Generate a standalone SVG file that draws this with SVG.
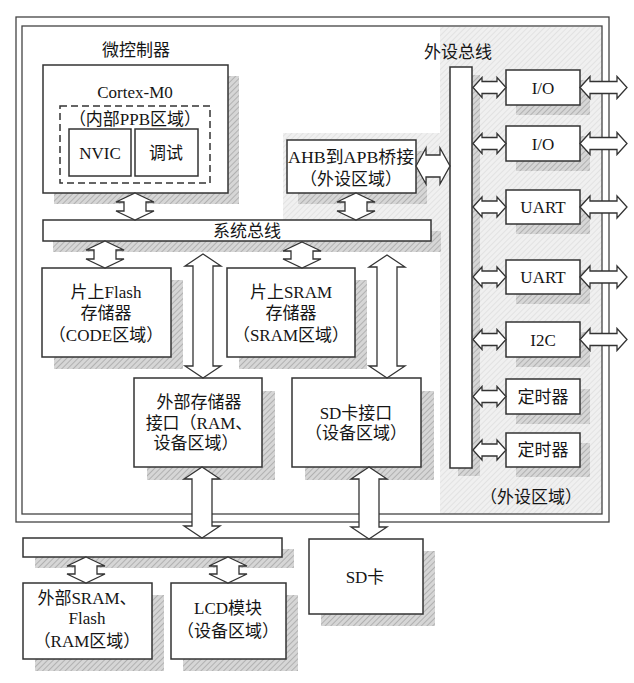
<svg xmlns="http://www.w3.org/2000/svg" xmlns:xlink="http://www.w3.org/1999/xlink" width="634" height="683" viewBox="0 0 634 683">
<style>
.box{fill:#fff;stroke:#333;stroke-width:1.5}
.sh{fill:url(#hatch);stroke:none}
.arr{fill:#fff;stroke:#333;stroke-width:1.3;stroke-linejoin:miter}
.frame{fill:none;stroke:#444;stroke-width:1.3}
text{font-family:"Liberation Serif","Noto Sans CJK SC",serif;font-size:17px;fill:#151515;text-anchor:middle}
</style>
<defs>
<pattern id="hatch" patternUnits="userSpaceOnUse" width="4" height="4" patternTransform="rotate(45)">
<rect width="4" height="4" fill="#d6d6d6"/>
<line x1="0" y1="0" x2="0" y2="4" stroke="#a8a8a8" stroke-width="1.6"/>
</pattern>
<pattern id="light" patternUnits="userSpaceOnUse" width="4" height="4" patternTransform="rotate(45)">
<rect width="4" height="4" fill="#f0f0f0"/>
<line x1="0" y1="0" x2="0" y2="4" stroke="#dcdcdc" stroke-width="1.4"/>
</pattern>
<polygon id="pa" points="0,0 9,-10 9,-6 24,-6 24,-10 33,0 24,10 24,6 9,6 9,10"/>
<polygon id="pb" points="0,0 10,-11 10,-6 37,-6 37,-11 47,0 37,11 37,6 10,6 10,11"/>
</defs>

<g id="frame">
<polygon points="440,27 602,27 602,514 440,514 440,252 283,252 283,133 440,133" fill="url(#light)"/>
<rect class="frame" x="16" y="17" width="593" height="505"/>
<rect class="frame" x="22" y="26" width="580" height="488"/>
<text x="136" y="56">微控制器</text>
<text x="458" y="58">外设总线</text>
<text x="531" y="503">（外设区域）</text>
</g>

<g id="cortex">
<rect class="sh" x="54" y="76" width="185" height="128"/>
<rect class="box" x="43" y="65" width="185" height="128"/>
<text x="135" y="98">Cortex-M0</text>
<rect x="60" y="106" width="150" height="77" fill="#fff" stroke="#333" stroke-width="1.5" stroke-dasharray="7,4"/>
<text x="135" y="125">（内部PPB区域）</text>
</g>
<g id="nvic">
<rect class="box" x="69" y="129" width="62" height="47"/>
<text x="100" y="159">NVIC</text>
</g>
<g id="debug">
<rect class="box" x="135" y="129" width="63" height="47"/>
<text x="166" y="159">调试</text>
</g>

<g id="sysbus">
<rect class="sh" x="53" y="231" width="388" height="21"/>
<rect class="box" x="43" y="220" width="388" height="21"/>
<text x="247" y="237">系统总线</text>
</g>

<g id="ahb">
<rect class="sh" x="298" y="151" width="129" height="53"/>
<rect class="box" x="287" y="140" width="129" height="53"/>
<text x="351" y="163" textLength="126" lengthAdjust="spacingAndGlyphs">AHB到APB桥接</text>
<text x="351" y="185">（外设区域）</text>
</g>

<g id="apb">
<rect class="sh" x="458" y="75" width="22" height="401"/>
<rect class="box" x="450" y="67" width="22" height="401"/>
</g>

<g id="io1"><rect class="sh" x="516" y="80" width="74" height="35"/><rect class="box" x="506" y="70" width="74" height="35"/><text x="543" y="94">I/O</text></g>
<g id="io2"><rect class="sh" x="516" y="136" width="74" height="35"/><rect class="box" x="506" y="126" width="74" height="35"/><text x="543" y="150">I/O</text></g>
<g id="uart1"><rect class="sh" x="516" y="200" width="74" height="34"/><rect class="box" x="506" y="190" width="74" height="34"/><text x="543" y="213">UART</text></g>
<g id="uart2"><rect class="sh" x="516" y="270" width="74" height="34"/><rect class="box" x="506" y="260" width="74" height="34"/><text x="543" y="283">UART</text></g>
<g id="i2c"><rect class="sh" x="516" y="332" width="74" height="35"/><rect class="box" x="506" y="322" width="74" height="35"/><text x="543" y="346">I2C</text></g>
<g id="timer1"><rect class="sh" x="516" y="389" width="74" height="35"/><rect class="box" x="506" y="379" width="74" height="35"/><text x="543" y="403">定时器</text></g>
<g id="timer2"><rect class="sh" x="516" y="443" width="74" height="34"/><rect class="box" x="506" y="433" width="74" height="34"/><text x="543" y="456">定时器</text></g>

<g id="flash">
<rect class="sh" x="54" y="280" width="129" height="89"/>
<rect class="box" x="42" y="268" width="129" height="89"/>
<text x="106" y="298">片上Flash</text>
<text x="106" y="319">存储器</text>
<text x="106" y="341">（CODE区域）</text>
</g>

<g id="sram">
<rect class="sh" x="239" y="280" width="128" height="89"/>
<rect class="box" x="227" y="268" width="128" height="89"/>
<text x="291" y="298">片上SRAM</text>
<text x="291" y="319">存储器</text>
<text x="291" y="341">（SRAM区域）</text>
</g>

<g id="extmem">
<rect class="sh" x="147" y="391" width="128" height="89"/>
<rect class="box" x="134" y="378" width="128" height="89"/>
<text x="199" y="408">外部存储器</text>
<text x="199" y="429">接口（RAM、</text>
<text x="196" y="449">设备区域）</text>
</g>

<g id="sdif">
<rect class="sh" x="305" y="391" width="129" height="89"/>
<rect class="box" x="292" y="378" width="129" height="89"/>
<text x="356" y="419">SD卡接口</text>
<text x="356" y="439">（设备区域）</text>
</g>

<g id="extbus">
<rect class="sh" x="35" y="549" width="259" height="19"/>
<rect class="box" x="23" y="538" width="259" height="19"/>
</g>

<g id="extsram">
<rect class="sh" x="35" y="595" width="129" height="76"/>
<rect class="box" x="23" y="583" width="129" height="76"/>
<text x="87" y="604">外部SRAM、</text>
<text x="87" y="624">Flash</text>
<text x="87" y="647">（RAM区域）</text>
</g>

<g id="lcd">
<rect class="sh" x="183" y="595" width="115" height="76"/>
<rect class="box" x="171" y="583" width="115" height="76"/>
<text x="228" y="614">LCD模块</text>
<text x="228" y="637">（设备区域）</text>
</g>

<g id="sdcard">
<rect class="sh" x="321" y="551" width="114" height="75"/>
<rect class="box" x="309" y="539" width="114" height="75"/>
<text x="365" y="583">SD卡</text>
</g>

<g id="connectors">
<polygon class="arr" points="135,193 154,202 146,202 146,211 154,211 135,220 116,211 124,211 124,202 116,202"/>
<polygon class="arr" points="356,193 375,202 367,202 367,211 375,211 356,220 337,211 345,211 345,202 337,202"/>
<polygon class="arr" points="105,241 124,250 116,250 116,259 124,259 105,268 86,259 94,259 94,250 86,250"/>
<polygon class="arr" points="302,242 321,251 313,251 313,259 321,259 302,268 283,259 291,259 291,251 283,251"/>
<polygon class="arr" points="203,254 221,266 213,266 213,366 221,366 203,378 185,366 193,366 193,266 185,266"/>
<polygon class="arr" points="387,255 405,267 397,267 397,366 405,366 387,378 369,366 377,366 377,267 369,267"/>
<polygon class="arr" points="202,467 220,479 212,479 212,526 220,526 202,538 184,526 192,526 192,479 184,479"/>
<polygon class="arr" points="369,467 387,479 379,479 379,527 387,527 369,539 351,527 359,527 359,479 351,479"/>
<polygon class="arr" points="86,557 105,566 97,566 97,574 105,574 86,583 67,574 75,574 75,566 67,566"/>
<polygon class="arr" points="228,557 247,566 239,566 239,574 247,574 228,583 209,574 217,574 217,566 209,566"/>
<polygon class="arr" points="416,166 426,148 426,155 440,155 440,148 450,166 440,184 440,177 426,177 426,184"/>
<use xlink:href="#pa" class="arr" x="473" y="87.5"/>
<use xlink:href="#pa" class="arr" x="473" y="143.5"/>
<use xlink:href="#pa" class="arr" x="473" y="207"/>
<use xlink:href="#pa" class="arr" x="473" y="277"/>
<use xlink:href="#pa" class="arr" x="473" y="339.5"/>
<use xlink:href="#pa" class="arr" x="473" y="396.5"/>
<use xlink:href="#pa" class="arr" x="473" y="450"/>
<use xlink:href="#pb" class="arr" x="580" y="87.5"/>
<use xlink:href="#pb" class="arr" x="580" y="143.5"/>
<use xlink:href="#pb" class="arr" x="580" y="207"/>
<use xlink:href="#pb" class="arr" x="580" y="277"/>
<use xlink:href="#pb" class="arr" x="580" y="339.5"/>
</g>
</svg>
